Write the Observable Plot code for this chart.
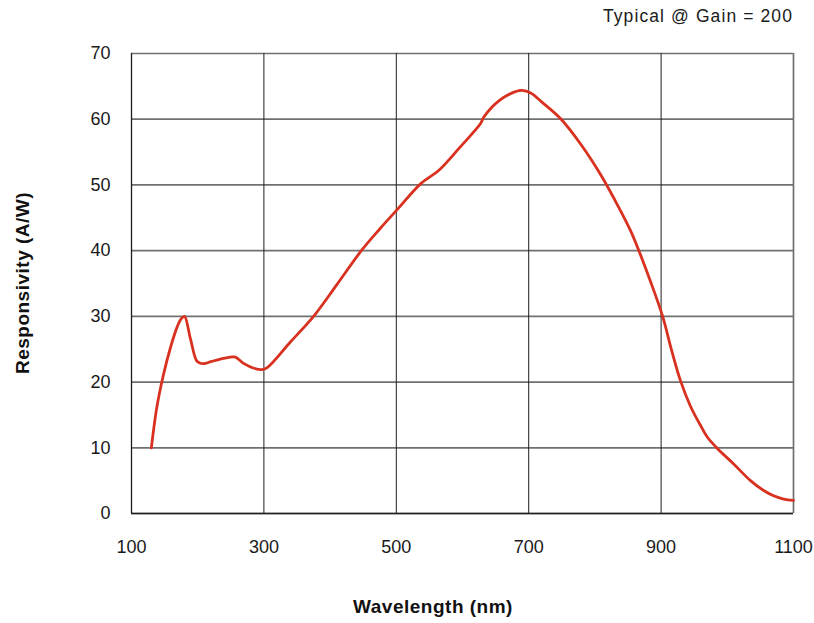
<!DOCTYPE html>
<html>
<head>
<meta charset="utf-8">
<script src="https://cdn.jsdelivr.net/npm/d3@7"></script>
<script src="https://cdn.jsdelivr.net/npm/@observablehq/plot@0.6"></script>
<style>
  html, body { margin: 0; padding: 0; background: #fff; }
  svg { display: block; }
</style>
</head>
<body>
<div id="chart"></div>
<script>
const wavelength = [130, 138, 148, 159, 169, 175, 180, 189, 198, 203, 209, 220, 234, 250, 257, 270, 285, 297, 305, 340, 375, 410, 448, 475, 501, 537, 564, 595, 627, 632, 645, 655, 667, 680, 690, 703, 720, 748, 780, 809, 838, 854, 866, 884, 902, 916, 929, 944, 959, 970, 985, 1010, 1035, 1055, 1070, 1085, 1100];
const responsivity = [10, 16, 21, 25.3, 28.4, 29.6, 30, 26.6, 23.3, 22.9, 22.8, 23.1, 23.5, 23.8, 23.8, 22.8, 22.1, 21.9, 22.2, 26.1, 30, 34.8, 40.1, 43.3, 46.2, 50.2, 52.2, 55.6, 59.3, 60.3, 61.9, 62.8, 63.6, 64.2, 64.4, 64, 62.6, 60.1, 56.0, 51.5, 46.2, 43.0, 40.1, 35.3, 30.1, 24.8, 20.3, 16.4, 13.5, 11.6, 9.9, 7.5, 5, 3.5, 2.7, 2.2, 2];
const xTicks = [100, 300, 500, 700, 900, 1100];
const yTicks = [0, 10, 20, 30, 40, 50, 60, 70];
const title = "Typical @ Gain = 200";
const xLabel = "Wavelength (nm)";
const yLabel = "Responsivity (A/W)";

const data = wavelength.map((w, i) => ({w, r: responsivity[i]}));

const W = 814, H = 623;
const mL = 131, mR = 21, mT = 53, mB = 110;

const plot = Plot.plot({
  width: W,
  height: H,
  marginLeft: mL,
  marginRight: mR,
  marginTop: mT,
  marginBottom: mB,
  x: {domain: [100, 1100]},
  y: {domain: [0, 70]},
  style: {fontFamily: "'Liberation Sans', Arial, sans-serif", fontSize: "18px", color: "#1a1a1a", background: "#fff", overflow: "visible"},
  marks: [
    Plot.ruleY(yTicks, {stroke: "#707070", strokeWidth: 1.7}),
    Plot.ruleX(xTicks.slice(1, -1), {stroke: "#1e1e1e", strokeWidth: 1}),
    Plot.ruleX([1100], {stroke: "#707070", strokeWidth: 1.7}),
    Plot.ruleX([100], {stroke: "#1e1e1e", strokeWidth: 1.3}),
    Plot.ruleY([0], {stroke: "#1e1e1e", strokeWidth: 1.3}),
    Plot.line(data, {x: "w", y: "r", stroke: "#d9311f", strokeWidth: 2.8, curve: "catmull-rom", strokeLinejoin: "round", strokeLinecap: "round"}),
    Plot.axisX(xTicks, {tickSize: 0, tickPadding: 27, label: null, fontSize: 18, tickFormat: d => String(d)}),
    Plot.axisY(yTicks, {tickSize: 0, tickPadding: 21, label: null, fontSize: 18, tickFormat: d => String(d)})
  ]
});

document.getElementById("chart").appendChild(plot);

const svg = d3.select(plot);
svg.append("text")
  .attr("x", 793).attr("y", 22)
  .attr("text-anchor", "end")
  .attr("font-family", "'Liberation Sans', Arial, sans-serif")
  .attr("font-size", 17.5)
  .attr("letter-spacing", "1.1px")
  .attr("fill", "#1a1a1a")
  .text(title);

svg.append("text")
  .attr("x", 433).attr("y", 613)
  .attr("text-anchor", "middle")
  .attr("font-family", "'Liberation Sans', Arial, sans-serif")
  .attr("font-size", 19)
  .attr("font-weight", "bold")
  .attr("letter-spacing", "0.5px")
  .attr("fill", "#111")
  .text(xLabel);

svg.append("text")
  .attr("transform", "translate(29,283) rotate(-90)")
  .attr("text-anchor", "middle")
  .attr("font-family", "'Liberation Sans', Arial, sans-serif")
  .attr("font-size", 19)
  .attr("font-weight", "bold")
  .attr("letter-spacing", "0.5px")
  .attr("fill", "#111")
  .text(yLabel);
</script>
</body>
</html>
